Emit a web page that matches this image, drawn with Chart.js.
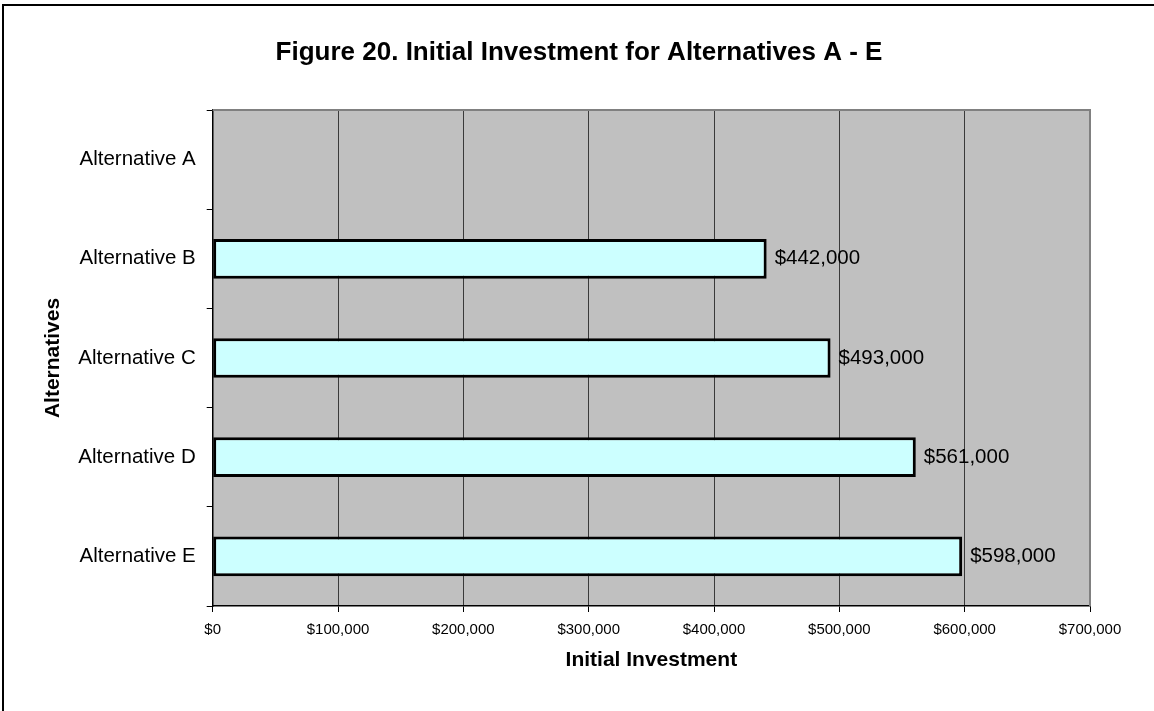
<!DOCTYPE html>
<html>
<head>
<meta charset="utf-8">
<title>Initial Investment for Alternatives A - E</title>
<script src="https://cdn.jsdelivr.net/npm/chart.js@4.4.1/dist/chart.umd.min.js"></script>
<style>
  html, body { margin: 0; padding: 0; background: #fff; }
  canvas { display: block; }
</style>
</head>
<body>
<canvas id="investment" width="1154" height="711"></canvas>
<script>
// chart data
var alternatives = ["Alternative A", "Alternative B", "Alternative C", "Alternative D", "Alternative E"];
var investment = [null, 442000, 493000, 561000, 598000];
var axis_ticks = [0, 100000, 200000, 300000, 400000, 500000, 600000, 700000];

var chart_title = "Figure 20. Initial Investment for Alternatives A - E";
var FONT = "'Liberation Sans', Arial, Helvetica, sans-serif";

function money(v) {
    return "$" + Number(v).toLocaleString("en-US");
}

// gray plot background, page frame, title and bar value labels
var excelLook = {
    id: "excelLook",
    beforeDraw: function (chart) {
        var ctx = chart.ctx, a = chart.chartArea;
        ctx.save();
        ctx.fillStyle = "#fff";
        ctx.fillRect(0, 0, chart.width, chart.height);
        ctx.strokeStyle = "#000";
        ctx.lineWidth = 2;
        ctx.strokeRect(3, 5, chart.width + 20, chart.height + 20);
        ctx.fillStyle = "#c0c0c0";
        ctx.fillRect(a.left, a.top, a.right - a.left, a.bottom - a.top);
        ctx.fillStyle = "#000";
        ctx.font = "bold 26px " + FONT;
        ctx.textAlign = "center";
        ctx.textBaseline = "middle";
        ctx.fillText(chart_title, 579, 53);
        ctx.restore();
    },
    afterDatasetsDraw: function (chart) {
        var ctx = chart.ctx, a = chart.chartArea;
        var meta = chart.getDatasetMeta(0);
        ctx.save();
        ctx.fillStyle = "#000";
        ctx.font = "20.5px " + FONT;
        ctx.textAlign = "left";
        ctx.textBaseline = "middle";
        meta.data.forEach(function (bar, i) {
            var v = investment[i];
            if (v === null) return;
            ctx.fillText(money(v), bar.x + 8, bar.y);
        });
        // plot border top and right
        ctx.strokeStyle = "#808080";
        ctx.lineWidth = 2;
        ctx.beginPath();
        ctx.moveTo(a.left, a.top);
        ctx.lineTo(a.right, a.top);
        ctx.lineTo(a.right, a.bottom);
        ctx.stroke();
        ctx.restore();
    }
};

var ctx = document.getElementById("investment");
var investChart = new Chart(ctx, {
    type: "bar",
    data: {
        labels: alternatives,
        datasets: [{
            data: investment,
            backgroundColor: "#ccffff",
            borderColor: "#000",
            borderWidth: 3,
            borderSkipped: false,
            categoryPercentage: 1.0,
            barPercentage: 0.4
        }]
    },
    options: {
        indexAxis: "y",
        responsive: false,
        animation: false,
        devicePixelRatio: 1,
        layout: { padding: { top: 110, right: 64, bottom: 0, left: 0 } },
        plugins: {
            legend: { display: false },
            tooltip: { enabled: false },
            title: { display: false }
        },
        scales: {
            x: {
                min: 0,
                max: 700000,
                afterFit: function (scale) { scale.height = 105; },
                afterBuildTicks: function (scale) {
                    scale.ticks = axis_ticks.map(function (v) { return { value: v }; });
                },
                ticks: {
                    color: "#000",
                    font: { family: FONT, size: 15 },
                    padding: 9,
                    maxRotation: 0,
                    callback: function (v) { return money(v); }
                },
                grid: { color: "#3a3a3a", lineWidth: 1, tickLength: 6, tickColor: "#000" },
                border: { color: "#000", width: 1.5 },
                title: {
                    display: true,
                    text: "Initial Investment",
                    color: "#000",
                    font: { family: FONT, size: 21, weight: "bold" },
                    padding: { top: 0, bottom: 38 }
                }
            },
            y: {
                offset: true,
                afterFit: function (scale) { scale.width = 212.7; },
                ticks: {
                    color: "#000",
                    font: { family: FONT, size: 20.5 },
                    padding: 11
                },
                grid: { offset: true, drawOnChartArea: false, tickLength: 6, color: "#000" },
                border: { color: "#000", width: 1.5 },
                title: {
                    display: true,
                    text: "Alternatives",
                    color: "#000",
                    font: { family: FONT, size: 21, weight: "bold" },
                    padding: { top: 41, bottom: 0 }
                }
            }
        }
    },
    plugins: [excelLook]
});
</script>
</body>
</html>
